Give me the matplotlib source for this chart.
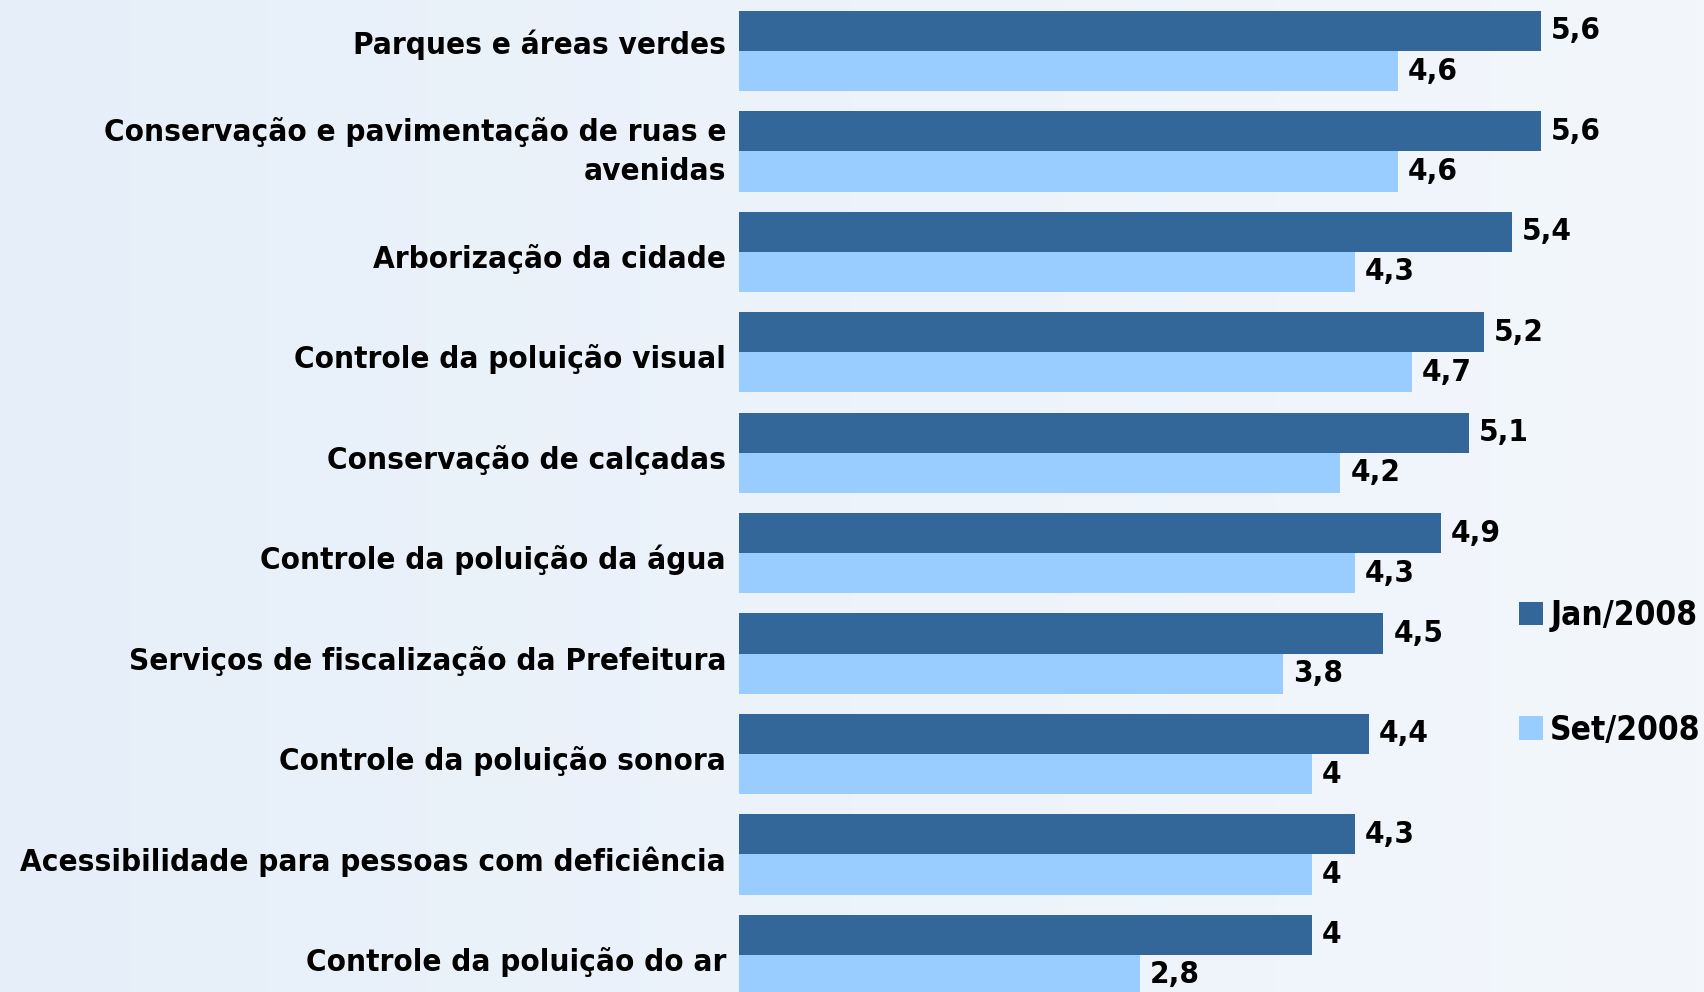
import numpy as np
import matplotlib.pyplot as plt
from matplotlib.patches import Patch

categorias = ['Parques e áreas verdes',
              'Conservação e pavimentação de ruas e\navenidas',
              'Arborização da cidade',
              'Controle da poluição visual',
              'Conservação de calçadas',
              'Controle da poluição da água',
              'Serviços de fiscalização da Prefeitura',
              'Controle da poluição sonora',
              'Acessibilidade para pessoas com deficiência',
              'Controle da poluição do ar']
jan2008 = [5.6, 5.6, 5.4, 5.2, 5.1, 4.9, 4.5, 4.4, 4.3, 4.0]
set2008 = [4.6, 4.6, 4.3, 4.7, 4.2, 4.3, 3.8, 4.0, 4.0, 2.8]
series = ['Jan/2008', 'Set/2008']

cor_jan = '#336699'
cor_set = '#99ccff'
fundo = '#ecf3fa'
fonte = dict(family='DejaVu Sans', stretch='condensed', weight='bold', size=22.5)


def fmt(v):
    # 4.0 -> "4", 4.3 -> "4,3"
    if v == int(v):
        return str(int(v))
    return f'{v:.1f}'.replace('.', ',')


fig = plt.figure(figsize=(17.04, 9.92), dpi=100, facecolor=fundo)

# fundo levemente degradê (mais claro à direita)
bg = fig.add_axes([0, 0, 1, 1], zorder=-1)
grad = np.linspace(0, 1, 256).reshape(1, -1)
bg.imshow(grad, aspect='auto', extent=(0, 1, 0, 1),
          cmap=plt.matplotlib.colors.LinearSegmentedColormap.from_list('f', ['#e6eff9', '#f3f7fc']))
bg.axis('off')

ax = fig.add_axes([739 / 1704, 0, 1 - 739 / 1704, 1])
ax.set_facecolor('none')

y = np.arange(len(categorias))
h = 0.4
ax.barh(y - h / 2, jan2008, height=h, color=cor_jan, label=series[0])
ax.barh(y + h / 2, set2008, height=h, color=cor_set, label=series[1])

for i in range(len(categorias)):
    ax.text(jan2008[i] + 0.07, y[i] - h / 2, fmt(jan2008[i]), va='center', ha='left', **fonte)
    ax.text(set2008[i] + 0.07, y[i] + h / 2, fmt(set2008[i]), va='center', ha='left', **fonte)
    if i == 0:
        dy = -0.06
    elif '\n' in categorias[i]:
        dy = 0
    else:
        dy = 0.07
    ax.text(-0.09, y[i] + dy, categorias[i], va='center', ha='right', linespacing=1.45, **fonte)

ax.set_xlim(0, 6.74)
ax.set_ylim(9.37, -0.508)
ax.axis('off')

handles = [Patch(facecolor=cor_jan), Patch(facecolor=cor_set)]
leg_fonte = dict(fonte, size=24)
fig.legend(handles, series, loc='center left', bbox_to_anchor=(1519 / 1704, 1 - 673 / 992),
           frameon=False, borderpad=0, borderaxespad=0, handlelength=0.72, handleheight=0.72,
           handletextpad=0.22, labelspacing=2.45, prop=leg_fonte)

fig.savefig('out.png', dpi=100, facecolor=fundo)
